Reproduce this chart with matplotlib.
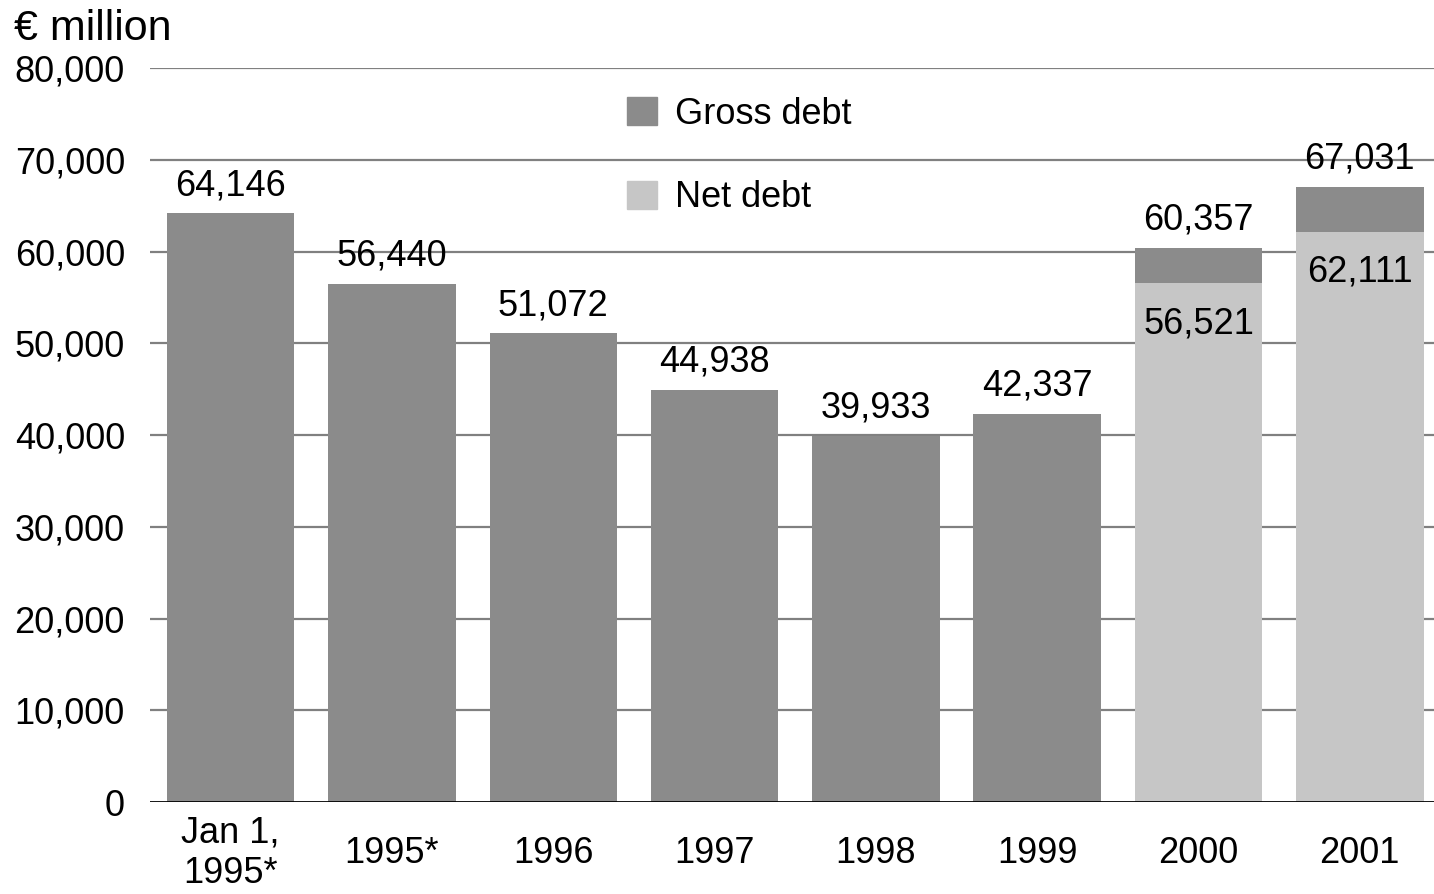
import matplotlib.pyplot as plt
from matplotlib.patches import Patch

plt.rcParams['font.family'] = ['Liberation Sans', 'DejaVu Sans']

categories = ['Jan 1,\n1995*', '1995*', '1996', '1997', '1998', '1999', '2000', '2001']
gross_debt = [64146, 56440, 51072, 44938, 39933, 42337, 60357, 67031]
net_debt = [None, None, None, None, None, None, 56521, 62111]
yticks = [0, 10000, 20000, 30000, 40000, 50000, 60000, 70000, 80000]

dark = '#8b8b8b'
light = '#c6c6c6'
fs = 26

fig = plt.figure(figsize=(14.34, 8.94), dpi=100)
ax = fig.add_axes([0.1046, 0.1029, 0.8954, 0.821])

x = list(range(len(categories)))
ax.bar(x, gross_debt, width=0.79, color=dark, zorder=2)
for i, n in enumerate(net_debt):
    if n is not None:
        ax.bar(i, n, width=0.79, color=light, zorder=3)
        ax.annotate(f'{n:,}', (i, n), xytext=(0, -29), textcoords='offset points',
                    ha='center', va='center', fontsize=fs, zorder=5)

for i, g in enumerate(gross_debt):
    ax.annotate(f'{g:,}', (i, g), xytext=(0, 20), textcoords='offset points',
                ha='center', va='center', fontsize=fs, zorder=5)

ax.set_xlim(-0.5, 7.46)
ax.set_ylim(0, 80000)
ax.set_yticks(yticks)
ax.set_yticklabels([f'{t:,}' for t in yticks], fontsize=fs)
ax.set_xticks(x)
ax.set_xticklabels(categories, fontsize=fs, linespacing=1.2)
ax.tick_params(axis='y', length=0, pad=18)
ax.tick_params(axis='x', length=0, pad=37)
for t in ax.get_xticklabels():
    t.set_verticalalignment('center')

# grid lines behind the bars, black base line
for t in yticks[1:]:
    ax.axhline(t, color='#808080', lw=1.6, zorder=1)
ax.axhline(0, color='black', lw=2, zorder=4)

for s in ax.spines.values():
    s.set_visible(False)

fig.text(0.01, 0.968, '€ million', fontsize=31, ha='left', va='center')

handles = [Patch(color=dark, label='Gross debt'), Patch(color=light, label='Net debt')]
fig.legend(handles=handles, loc='upper left', bbox_to_anchor=(0.4372, 0.892), frameon=False,
           fontsize=fs, handlelength=0.83, handleheight=0.83, labelspacing=1.35,
           handletextpad=0.5, borderpad=0, borderaxespad=0)

fig.savefig('out.png', dpi=100)
